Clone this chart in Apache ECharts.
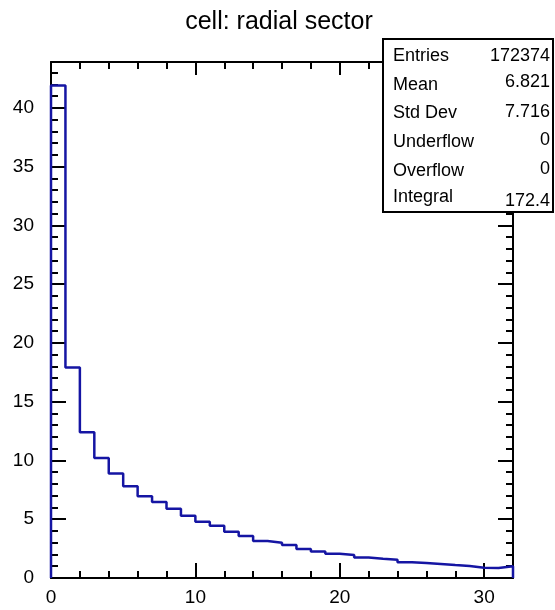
<!DOCTYPE html>
<html>
<head>
<meta charset="utf-8">
<script src="https://cdn.jsdelivr.net/npm/echarts@6/dist/echarts.min.js"></script>
<style>
html,body{margin:0;padding:0;background:#fff;}
#chart{width:555px;height:610px;}
</style>
</head>
<body>
<div id="chart"></div>
<script>
// Bin lower edges (bin width 1) and the upper edge of the last bin
const binEdges = [0,1,2,3,4,5,6,7,8,9,10,11,12,13,14,15,16,17,18,19,20,21,22,23,24,25,26,27,28,29,30,31,32];
// Bin contents
const binValues = [41.9,17.9,12.4,10.2,8.9,7.8,6.95,6.47,5.9,5.3,4.79,4.45,3.94,3.57,3.15,3.0,2.8,2.47,2.26,2.07,1.96,1.75,1.64,1.56,1.34,1.28,1.19,1.1,1.02,0.88,0.86,1.0];
const xTickLabels = [0,10,20,30];
const yTickLabels = [0,5,10,15,20,25,30,35,40];
const titleText = 'cell: radial sector';
const statNames = ['Entries','Mean','Std Dev','Underflow','Overflow','Integral'];
const statValues = ['172374','6.821','7.716','0','0','172.4'];

const FONT = '"Liberation Sans", Arial, Helvetica, sans-serif';
const xMax = binEdges[binEdges.length-1];
const yMax = 43.9;

// step data: each bin from lower edge, final point at upper edge
const stepData = [[binEdges[0], 0]];
binValues.forEach((v, i) => stepData.push([binEdges[i], v]));
stepData.push([binEdges[binValues.length], binValues[binValues.length-1]]);
stepData.push([binEdges[binValues.length], 0]);

const axisLineStyle = {color:'#000', width:2};
function xAx(pos, interval, tickLen, showLabel, showLine){
  return {
    type:'value', position:pos, min:0, max:xMax, interval:interval,
    axisLine:{show:showLine, onZero:false, lineStyle:axisLineStyle},
    axisTick:{show:true, inside:true, length:tickLen, lineStyle:{color:'#000', width:2}},
    axisLabel:{show:showLabel, fontSize:19, color:'#000', fontFamily:FONT, margin:10,
      formatter: v => xTickLabels.indexOf(v) >= 0 ? String(v) : ''},
    splitLine:{show:false}
  };
}
function yAx(pos, interval, tickLen, showLabel, showLine){
  return {
    type:'value', position:pos, min:0, max:yMax, interval:interval,
    axisLine:{show:showLine, onZero:false, lineStyle:axisLineStyle},
    axisTick:{show:true, inside:true, length:tickLen, lineStyle:{color:'#000', width:2}},
    axisLabel:{show:showLabel, fontSize:19, color:'#000', fontFamily:FONT, margin:17,
      formatter: v => yTickLabels.indexOf(v) >= 0 ? String(v) : ''},
    splitLine:{show:false}
  };
}

const statRowY = [56, 85, 113, 142, 171, 197];
const statValY = [56, 82, 112, 140, 169, 201];
const graphics = [{
  type:'rect', z:100,
  shape:{x:383, y:39, width:170, height:173},
  style:{fill:'#fff', stroke:'#000', lineWidth:2}
}];
statNames.forEach((n, i) => {
  graphics.push({type:'text', z:101, style:{text:n, x:393, y:statRowY[i], font:'18px '+FONT, fill:'#000', textAlign:'left', textVerticalAlign:'middle'}});
  graphics.push({type:'text', z:101, style:{text:statValues[i], x:550, y:statValY[i], font:'18px '+FONT, fill:'#000', textAlign:'right', textVerticalAlign:'middle'}});
});

const chart = echarts.init(document.getElementById('chart'), null, {renderer:'canvas'});
chart.setOption({
  animation:false,
  backgroundColor:'#fff',
  title:{text:titleText, left:274, top:5, textAlign:'center',
    textStyle:{fontSize:25, fontWeight:'normal', color:'#000', fontFamily:FONT}},
  grid:{left:51, top:62, right:42, bottom:32, containLabel:false},
  xAxis:[
    xAx('bottom', 10, 15, true, true),
    xAx('bottom', 2, 7, false, false),
    xAx('top', 10, 13, false, true),
    xAx('top', 2, 7, false, false)
  ],
  yAxis:[
    yAx('left', 5, 15, true, true),
    yAx('left', 1, 7, false, false),
    yAx('right', 5, 15, false, true),
    yAx('right', 1, 7, false, false)
  ],
  series:[{
    type:'line', step:'end', xAxisIndex:0, yAxisIndex:0,
    data:stepData, showSymbol:false, symbol:'none',
    lineStyle:{color:'#1515a3', width:2.5}, z:5
  }],
  graphic:graphics
});
</script>
</body>
</html>
